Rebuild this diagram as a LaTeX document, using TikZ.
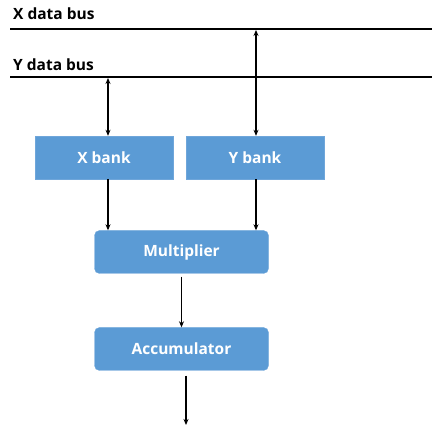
\documentclass[tikz,border=0pt]{standalone}
\usepackage{fontspec}
\setmainfont{Open Sans}
\usetikzlibrary{arrows.meta,positioning,calc}
\definecolor{boxblue}{HTML}{5B9BD5}
\definecolor{boxline}{HTML}{6FA6DA}
\tikzset{
    bank/.style =   {rectangle,
                    fill=boxblue,
                    draw=boxline,
                    text=white,
                    font=\bfseries\fontsize{15.5}{18}\selectfont,
                    minimum width=138,
                    minimum height=43,
                    inner sep=0pt},
    unit/.style =   {bank,
                    rounded corners=5pt,
                    minimum width=174},
    bus/.style =    {line width=2pt,
                    draw=black},
    buslabel/.style = {anchor=west,
                    inner sep=0pt,
                    font=\bfseries\fontsize{15.5}{18}\selectfont},
    wire/.style =   {line width=1.3pt,
                    -{Stealth[length=6pt,width=5pt]}},
    -,
    >=Stealth}

\begin{document}
\begin{tikzpicture}[x=1pt,y=-1pt]
                \useasboundingbox (0,0) rectangle (432,427);
                % buses
                \node[buslabel]     (xlab) at (13,14)                     {X data bus};
                \node[buslabel]     (ylab) at (13,65)                     {Y data bus};
                \coordinate (xbusW) at (10,29);
                \coordinate (xbusE) at (432,29);
                \coordinate (ybusW) at (10,77);
                \coordinate (ybusE) at (432,77);
                \draw[bus] (xbusW) -- (xbusE);
                \draw[bus] (ybusW) -- (ybusE);
                \coordinate (ytap) at (108,78);
                \coordinate (xtap) at (256,30);

                % blocks
                \node[bank]         (xbank) at (104,157.5)               {X bank};
                \node[bank]         (ybank) at (255,157.5)               {Y bank};
                \node[unit]         (mult)  at (181.5,252)               {Multiplier};
                \node[unit]         (acc)   at (181.5,349)               {Accumulator};
                \coordinate (out) at (186,425);

                \draw[wire,{Stealth[length=6pt,width=5pt]}-{Stealth[length=6pt,width=5pt]}] (ytap) -- (ytap |- xbank.north);
                \draw[wire,{Stealth[length=6pt,width=5pt]}-{Stealth[length=6pt,width=5pt]}] (xtap) -- (xtap |- ybank.north);
                \draw[wire] (ytap |- xbank.south) -- (ytap |- mult.north);
                \draw[wire] (xtap |- ybank.south) -- (xtap |- mult.north);
                \draw[wire] ([yshift=-3pt]mult.south) -- (acc.north);
                \draw[wire] ([shift={(4.5pt,-5pt)}]acc.south) -- (out);
\end{tikzpicture}
\end{document}
